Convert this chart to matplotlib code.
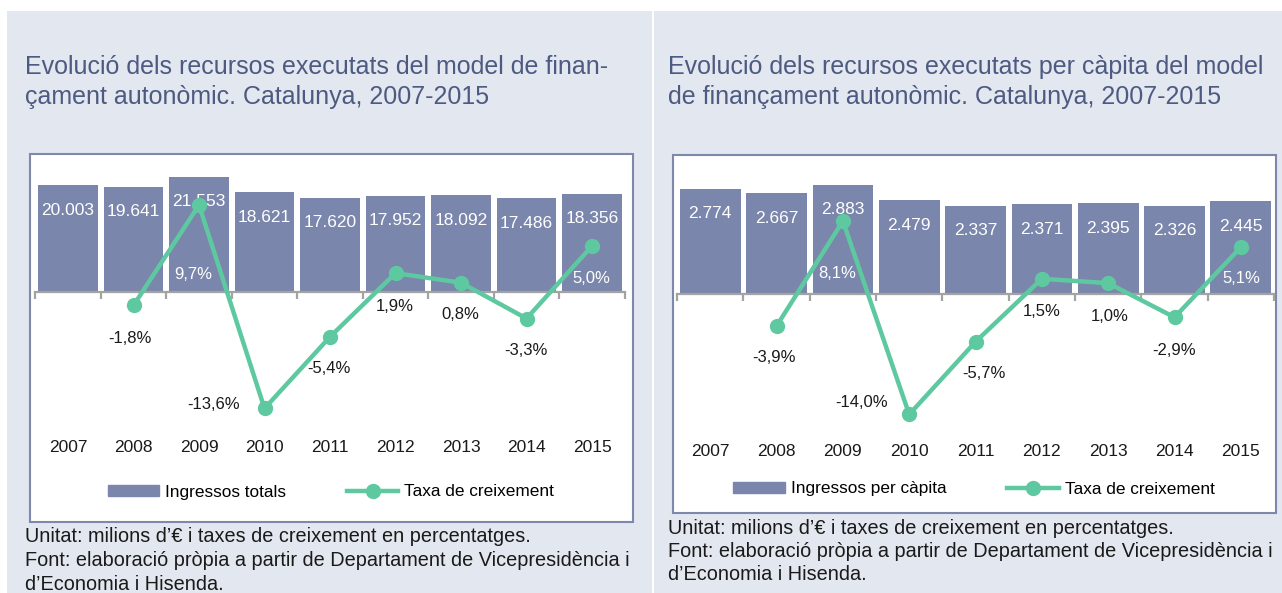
import matplotlib.pyplot as plt
import matplotlib.patches as mpatches
from matplotlib.lines import Line2D
from matplotlib.ticker import FixedLocator, NullFormatter

plt.rcParams["font.family"] = ["Liberation Sans", "DejaVu Sans"]

years = ["2007", "2008", "2009", "2010", "2011", "2012", "2013", "2014", "2015"]

# left chart: total resources (millions of euros) and growth rate (%)
ingressos_totals = [20003, 19641, 21553, 18621, 17620, 17952, 18092, 17486, 18356]
taxa_totals = [None, -1.8, 9.7, -13.6, -5.4, 1.9, 0.8, -3.3, 5.0]

# right chart: resources per capita (euros) and growth rate (%)
ingressos_capita = [2774, 2667, 2883, 2479, 2337, 2371, 2395, 2326, 2445]
taxa_capita = [None, -3.9, 8.1, -14.0, -5.7, 1.5, 1.0, -2.9, 5.1]

BG = "#e3e7ef"
BAR = "#7a86ab"
LINE = "#5ec9a1"
TITLE = "#4d5a81"
BORDER = "#7d88aa"
TXT = "#1a1a1a"

W, H = 1282, 593
fig = plt.figure(figsize=(W / 100, H / 100), dpi=100)
fig.patch.set_facecolor("white")


def fx(px):
    return px / W


def fy(py):
    return 1 - py / H


def rect(x0, y0, x1, y1, **kw):
    fig.patches.append(mpatches.Rectangle((fx(x0), fy(y1)), fx(x1 - x0), (y1 - y0) / H,
                                          transform=fig.transFigure, **kw))


def fmt_int(v):
    return f"{v:,}".replace(",", ".")


def fmt_pct(v):
    return f"{v:.1f}%".replace(".", ",")


def panel(cfg):
    rect(cfg["bg"][0], 11, cfg["bg"][1], H, facecolor=BG, edgecolor="none", zorder=-2)
    bx = cfg["box"]
    rect(bx[0], bx[1], bx[2], bx[3], facecolor="white", edgecolor=BORDER, lw=1.5, zorder=-1)

    for i, line in enumerate(cfg["title"]):
        fig.text(fx(cfg["title_x"]), fy(cfg["title_y"] + i * 30), line, color=TITLE,
                 fontsize=18, va="baseline", ha="left")
    for i, line in enumerate(cfg["notes"]):
        fig.text(fx(cfg["title_x"]), fy(cfg["notes_y"] + i * 23.5), line, color=TXT,
                 fontsize=14.3, va="center", ha="left")

    x0, x1 = cfg["plot_x"]
    top, bot = 160, 430
    ax = fig.add_axes([fx(x0), fy(bot), fx(x1 - x0), (bot - top) / H])
    ax.set_zorder(2)
    ax.set_facecolor("none")
    n = len(years)
    xs = list(range(n))
    bz, bs = cfg["bar_zero"], cfg["bar_scale"]
    ax.set_ylim(-(bot - bz) / bs, (bz - top) / bs)
    ax.set_xlim(-0.5, n - 0.5)
    vals = cfg["bars"]
    ax.bar(xs, vals, width=0.915, color=BAR, zorder=2)
    for x, v in zip(xs, vals):
        ax.annotate(fmt_int(v), (x, v), xytext=(0, -18), textcoords="offset points",
                    ha="center", va="center", color="white", fontsize=12.5, zorder=3)
    for s in ["top", "left", "right"]:
        ax.spines[s].set_visible(False)
    ax.spines["bottom"].set_position(("data", 0))
    ax.spines["bottom"].set_color("#a3a3a3")
    ax.spines["bottom"].set_linewidth(1.6)
    ax.set_yticks([])
    ax.xaxis.set_major_locator(FixedLocator(xs))
    ax.xaxis.set_major_formatter(NullFormatter())
    ax.xaxis.set_minor_locator(FixedLocator([i - 0.5 for i in range(n + 1)]))
    ax.tick_params(axis="x", which="major", length=0)
    ax.tick_params(axis="x", which="minor", length=5, width=1.6, color="#a3a3a3", direction="out")
    for x, y in zip(xs, years):
        ax.text(x, (bot - cfg["year_y"]) / (bot - top), y, transform=ax.get_xaxis_transform(),
                ha="center", va="center", fontsize=12.5, color=TXT)

    ax2 = ax.twinx()
    ax2.set_zorder(3)
    ax2.set_facecolor("none")
    lz, ls = cfg["line_zero"], cfg["line_scale"]
    ax2.set_ylim(-(bot - lz) / ls, (lz - top) / ls)
    ax2.set_yticks([])
    for s in ax2.spines.values():
        s.set_visible(False)
    lx = [x for x, v in zip(xs, cfg["rate"]) if v is not None]
    ly = [v for v in cfg["rate"] if v is not None]
    ax2.plot(lx, ly, color=LINE, lw=3.2, marker="o", markersize=10, zorder=4)
    for x, v, (dx, dy), c in zip(lx, ly, cfg["lab_off"], cfg["lab_col"]):
        ax2.annotate(fmt_pct(v), (x, v), xytext=(dx * 0.72, -dy * 0.72), textcoords="offset points",
                     ha="center", va="center", fontsize=12, color=c, zorder=5)

    handles = [mpatches.Patch(color=BAR, label=cfg["bar_label"]),
               Line2D([], [], color=LINE, lw=3.2, marker="o", markersize=10, label="Taxa de creixement")]
    fig.legend(handles=handles, loc="center", ncol=2, frameon=False, fontsize=12.4,
               bbox_to_anchor=(fx(cfg["leg"][0]), fy(cfg["leg"][1])),
               handlelength=3.0, handleheight=0.55, handletextpad=0.35, columnspacing=3.5)


panel(dict(
    bg=(7, 652), box=(30, 154, 633, 522),
    title=["Evolució dels recursos executats del model de finan-",
           "çament autonòmic. Catalunya, 2007-2015"],
    title_x=25, title_y=74,
    notes=["Unitat: milions d’€ i taxes de creixement en percentatges.",
           "Font: elaboració pròpia a partir de Departament de Vicepresidència i",
           "d’Economia i Hisenda."],
    notes_y=537,
    plot_x=(35.25, 624.75), bar_zero=291.7, bar_scale=0.005334,
    line_zero=289.7, line_scale=8.73,
    bars=ingressos_totals, rate=taxa_totals,
    lab_off=[(-3.5, 33), (-5.5, 69), (-51, -4), (-1, 32), (-1, 33), (-1, 32), (-1, 32), (-1, 32)],
    lab_col=[TXT, "white", TXT, TXT, TXT, TXT, TXT, "white"],
    year_y=447.7, bar_label="Ingressos totals", leg=(331, 492),
))

panel(dict(
    bg=(654, W), box=(673, 155, 1276, 513),
    title=["Evolució dels recursos executats per càpita del model",
           "de finançament autonòmic. Catalunya, 2007-2015"],
    title_x=668, title_y=74,
    notes=["Unitat: milions d’€ i taxes de creixement en percentatges.",
           "Font: elaboració pròpia a partir de Departament de Vicepresidència i",
           "d’Economia i Hisenda."],
    notes_y=528,
    plot_x=(677.1, 1274), bar_zero=294.3, bar_scale=0.03797,
    line_zero=291.9, line_scale=8.75,
    bars=ingressos_capita, rate=taxa_capita,
    lab_off=[(-2.5, 31), (-5.7, 52), (-47.6, -11.6), (8, 32), (0, 33), (1, 33), (0, 33), (0, 31)],
    lab_col=[TXT, "white", TXT, TXT, TXT, TXT, TXT, "white"],
    year_y=451.7, bar_label="Ingressos per càpita", leg=(974, 489),
))

fig.savefig("out.png", dpi=100)
